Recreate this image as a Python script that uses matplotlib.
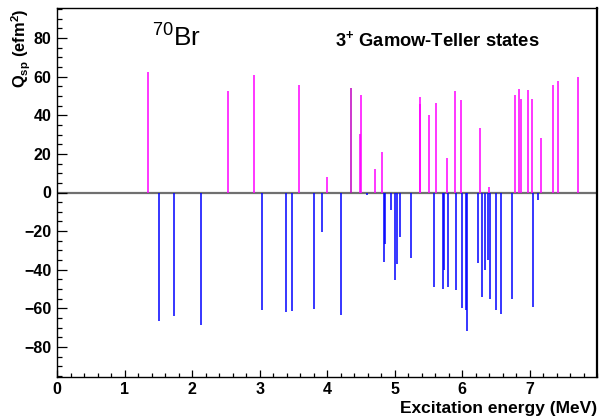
import numpy as np
import matplotlib.pyplot as plt
from matplotlib.ticker import MultipleLocator, FixedLocator

plt.rcParams['font.family'] = ['Liberation Sans', 'DejaVu Sans']
plt.rcParams['mathtext.fontset'] = 'custom'
plt.rcParams['mathtext.rm'] = 'Liberation Sans'
plt.rcParams['mathtext.bf'] = 'Liberation Sans:bold'
plt.rcParams['mathtext.it'] = 'Liberation Sans:italic'

# positive strengths (magenta)
pos_E = [1.344, 2.53, 2.92, 3.59, 4.00, 4.48, 4.505, 4.71, 4.82, 5.37, 5.38,
         5.51, 5.62, 5.77, 5.89, 5.98, 6.27, 6.40, 6.78, 6.84, 6.88, 6.98,
         7.03, 7.17, 7.35, 7.42, 7.72]
pos_Q = [62.2, 52.8, 60.8, 55.6, 8.1, 30.2, 50.4, 12.1, 21.2, 49.4, 45.6,
         40.0, 46.1, 18.1, 52.7, 47.8, 33.3, 2.9, 50.4, 53.5, 48.3, 53.0,
         48.3, 28.1, 55.6, 57.7, 59.7]

# the one darker line
dark_E = [4.356]
dark_Q = [54.0]

# negative strengths (blue)
neg_E = [1.51, 1.724, 2.134, 3.033, 3.39, 3.48, 3.81, 3.93, 4.20, 4.59, 4.84,
         4.86, 4.95, 5.01, 5.03, 5.08, 5.25, 5.58, 5.71, 5.73, 5.79, 5.91,
         6.00, 6.06, 6.07, 6.23, 6.30, 6.34, 6.38, 6.42, 6.50, 6.58, 6.74,
         7.05, 7.12]
neg_Q = [-66.8, -64.2, -68.6, -61.0, -61.8, -61.3, -60.5, -20.4, -63.2, -1.2,
         -36.0, -26.5, -9.0, -45.1, -37.2, -23.2, -34.0, -48.9, -49.9, -40.1,
         -48.7, -50.5, -59.6, -60.8, -71.7, -36.5, -54.2, -40.1, -35.1, -55.1,
         -60.8, -62.9, -55.1, -59.3, -3.8]

W, H = 599, 417
fig = plt.figure(figsize=(W / 100, H / 100), dpi=100)
left, right, top, bottom = 57.3, 597, 8.3, 376.7
ax = fig.add_axes([left / W, 1 - bottom / H, (right - left) / W, (bottom - top) / H])

ax.axhline(0, color='#707070', lw=1.6, zorder=1)
ax.vlines(pos_E, 0, pos_Q, colors='#ff00ff', lw=1.1, zorder=2)
ax.vlines(dark_E, 0, dark_Q, colors='#c000c0', lw=1.1, zorder=2)
ax.vlines(neg_E, 0, neg_Q, colors='#0000ff', lw=1.1, zorder=2)

ax.set_xlim(0, 8)
ax.set_ylim(-95.4, 95.4)

ax.xaxis.set_major_locator(FixedLocator(range(0, 8)))
ax.xaxis.set_minor_locator(MultipleLocator(0.2))
ax.yaxis.set_major_locator(FixedLocator(range(-80, 81, 20)))
ax.yaxis.set_minor_locator(MultipleLocator(5))

ax.tick_params(axis='both', which='both', direction='in', top=False, right=False,
               width=0.9, colors='black')
ax.tick_params(axis='y', which='major', length=7, pad=4)
ax.tick_params(axis='y', which='minor', length=3.6)
ax.tick_params(axis='x', which='major', length=5, pad=4)
ax.tick_params(axis='x', which='minor', length=2.8)
for lab in ax.get_xticklabels() + ax.get_yticklabels():
    lab.set_fontweight('bold')
    lab.set_fontsize(11.5)

for s in ['left', 'bottom', 'top']:
    ax.spines[s].set_linewidth(1.0)
ax.spines['right'].set_linewidth(1.6)

fig.text(597 / W, 1 - 408 / H, 'Excitation energy (MeV)', ha='right', va='center',
         fontsize=12.5, fontweight='bold')
fig.text(21 / W, 1 - 9 / H, r'Q$_{\mathbf{sp}}$ (efm$^{\mathbf{2}}$)', rotation=90,
         ha='center', va='top', fontsize=11.8, fontweight='bold')

fig.text(152 / W, 1 - 46.7 / H, r'$^{70}$Br', ha='left', va='baseline', fontsize=18.8)
fig.text(335 / W, 1 - 46 / H, r'3$^{\mathbf{+}}$ Gamow-Teller states', ha='left',
         va='baseline', fontsize=13.2, fontweight='bold')

fig.savefig('out.png', dpi=100)
